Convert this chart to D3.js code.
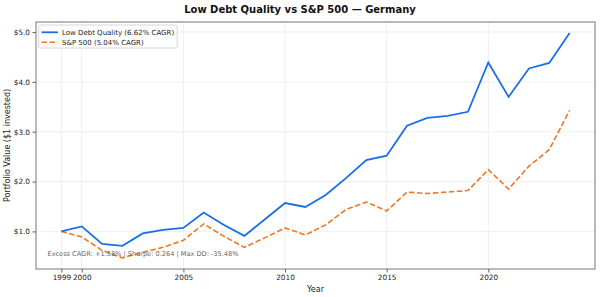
<!DOCTYPE html>
<html><head><meta charset="utf-8">
<script src="https://cdn.jsdelivr.net/npm/d3@7"></script>
<style>body{margin:0;background:#fff}svg{display:block}text{font-family:"DejaVu Sans",sans-serif}</style>
</head><body><svg id="c" width="600" height="297"></svg>
<script>
const years = [1999,2000,2001,2002,2003,2004,2005,2006,2007,2008,2009,2010,2011,2012,2013,2014,2015,2016,2017,2018,2019,2020,2021,2022,2023,2024];
const lowDebt = [1.00,1.10,0.75,0.71,0.96,1.03,1.07,1.38,1.13,0.91,1.24,1.57,1.49,1.73,2.07,2.43,2.52,3.12,3.28,3.32,3.40,4.39,3.70,4.27,4.38,4.98];
const sp500   = [1.00,0.89,0.62,0.47,0.58,0.68,0.82,1.15,0.90,0.68,0.87,1.07,0.93,1.13,1.44,1.59,1.41,1.79,1.76,1.79,1.82,2.24,1.85,2.31,2.64,3.43];
const xTicks = [1999,2000,2005,2010,2015,2020];
const yTicks = [1,2,3,4,5];
const seriesNames = ["Low Debt Quality (6.62% CAGR)","S&P 500 (5.04% CAGR)"];
const title = "Low Debt Quality vs S&P 500 — Germany";
const note = "Excess CAGR: +1.58%  |  Sharpe: 0.264  |  Max DD: -35.48%";

const svg = d3.select("#c");
const L=36,R=595,T=22,B=269;
const x = d3.scaleLinear().domain([1997.75,2025.25]).range([L,R]);
const y = d3.scaleLinear().domain([0.2455,5.2025]).range([B,T]);

svg.append("g").selectAll("line").data(xTicks).join("line")
  .attr("x1",d=>x(d)).attr("x2",d=>x(d)).attr("y1",T).attr("y2",B)
  .attr("stroke","#ebebeb").attr("stroke-width",0.8);
svg.append("g").selectAll("line").data(yTicks).join("line")
  .attr("x1",L).attr("x2",R).attr("y1",d=>y(d)).attr("y2",d=>y(d))
  .attr("stroke","#ebebeb").attr("stroke-width",0.8);

const xa = svg.append("g").attr("transform",`translate(0,${B})`)
  .call(d3.axisBottom(x).tickValues(xTicks).tickFormat(d3.format("d")).tickSize(3.5).tickPadding(2.5));
const ya = svg.append("g").attr("transform",`translate(${L},0)`)
  .call(d3.axisLeft(y).tickValues(yTicks).tickFormat(d=>"$"+d.toFixed(1)).tickSize(3.5).tickPadding(2.5));
[xa,ya].forEach(a=>{a.select(".domain").remove();a.selectAll("line").attr("stroke","#333").attr("stroke-width",0.8);
  a.selectAll("text").attr("font-size",7.3).attr("fill","#222").attr("font-family","DejaVu Sans");});

svg.append("rect").attr("x",L).attr("y",T).attr("width",R-L).attr("height",B-T)
  .attr("fill","none").attr("stroke","#777").attr("stroke-width",1);

const line = d3.line().x((d,i)=>x(years[i])).y(d=>y(d));
svg.append("path").datum(sp500).attr("d",line).attr("fill","none")
  .attr("stroke","#ee7722").attr("stroke-width",1.6).attr("stroke-dasharray","5.5,2.5");
svg.append("path").datum(lowDebt).attr("d",line).attr("fill","none")
  .attr("stroke","#1a6fe6").attr("stroke-width",1.8);

svg.append("text").attr("x",300).attr("y",13).attr("text-anchor","middle")
  .attr("font-size",10).attr("font-weight","bold").attr("fill","#111").text(title);
svg.append("text").attr("x",(L+R)/2).attr("y",292).attr("text-anchor","middle")
  .attr("font-size",8).attr("fill","#222").text("Year");
svg.append("text").attr("transform",`translate(10,${(T+B)/2}) rotate(-90)`).attr("text-anchor","middle")
  .attr("font-size",8).attr("fill","#222").text("Portfolio Value ($1 invested)");

svg.append("text").attr("x",47.5).attr("y",256).attr("font-size",6.6).attr("fill","#666").text(note);

const lg = svg.append("g");
lg.append("rect").attr("x",38.7).attr("y",25).attr("width",138.5).attr("height",23).attr("rx",2)
  .attr("fill","#fff").attr("fill-opacity",0.85).attr("stroke","#ccc").attr("stroke-width",0.8);
const styles=[{c:"#1a6fe6",w:1.8,d:null},{c:"#ee7722",w:1.6,d:"5.5,2.5"}];
seriesNames.forEach((n,i)=>{
  const yy = 32.3 + i*10;
  lg.append("line").attr("x1",41.5).attr("x2",58).attr("y1",yy).attr("y2",yy)
    .attr("stroke",styles[i].c).attr("stroke-width",styles[i].w).attr("stroke-dasharray",styles[i].d);
  lg.append("text").attr("x",62).attr("y",yy+2.5).attr("font-size",7).attr("fill","#222").text(n);
});
</script></body></html>
